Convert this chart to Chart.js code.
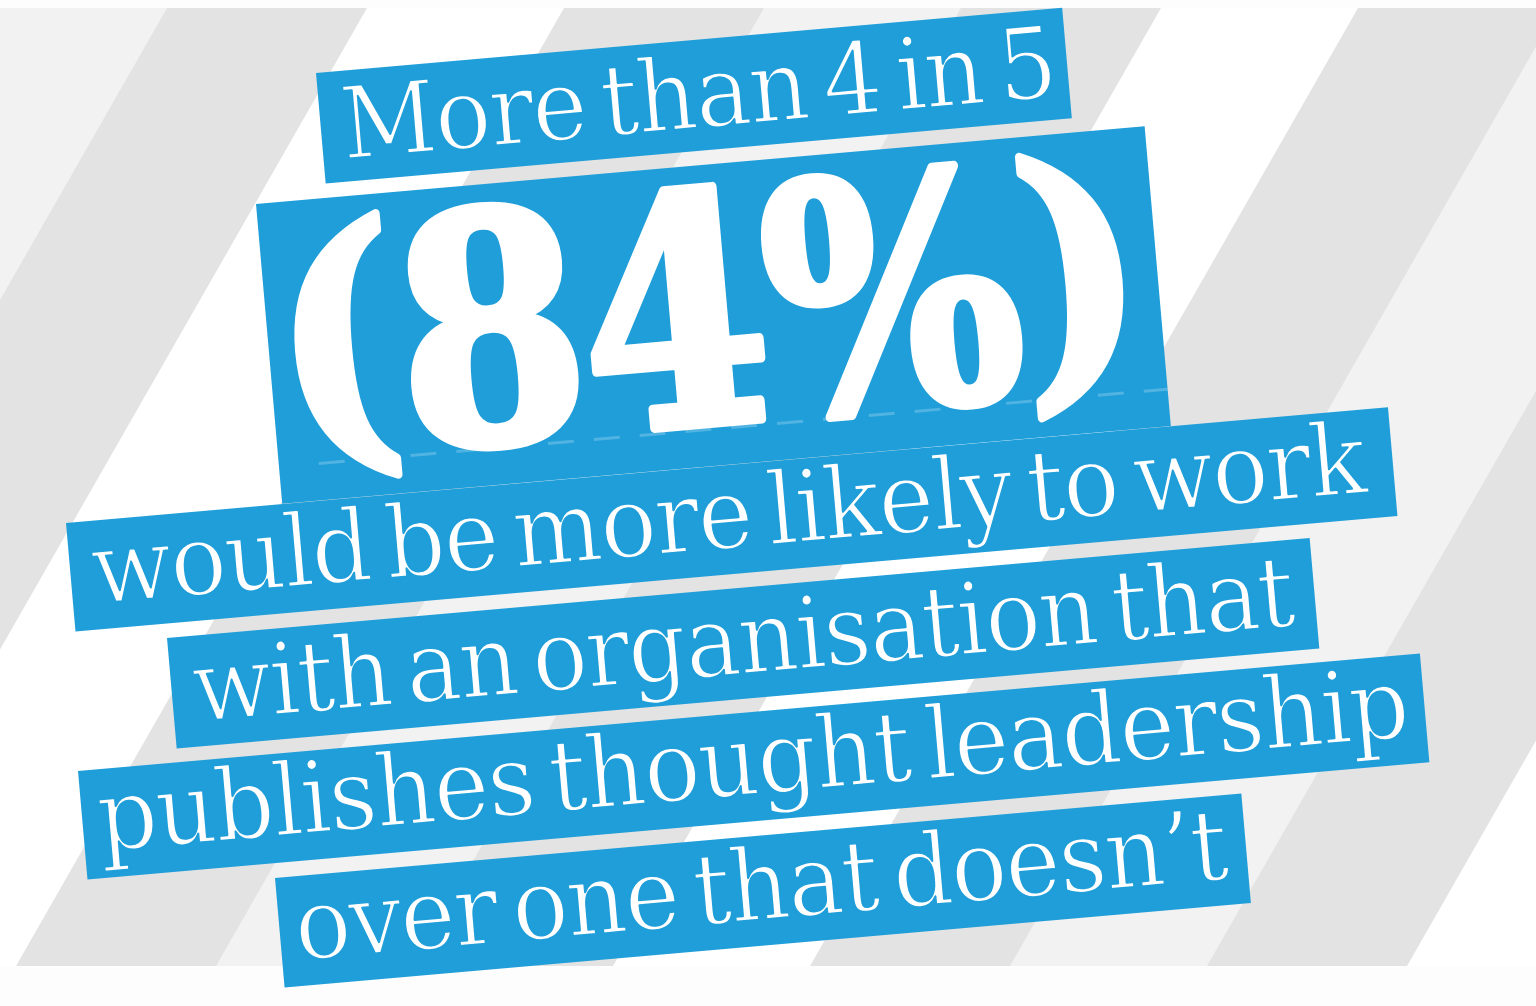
<!DOCTYPE html>
<html>
<head>
<meta charset="utf-8">
<title>More than 4 in 5</title>
<script src="https://cdn.jsdelivr.net/npm/chart.js@4.4.1/dist/chart.umd.min.js"></script>
<style>
  html, body { margin: 0; padding: 0; background: #fdfdfd; overflow: hidden; }
  #wrap { width: 1536px; height: 1006px; }
</style>
</head>
<body>
<div id="wrap"><canvas id="statChart" width="1536" height="1006"></canvas></div>
<script>
// data
const headline = ["More than 4 in 5"];
const shareValues = [84];
const bodyLines = [
    "would be more likely to work",
    "with an organisation that",
    "publishes thought leadership",
    "over one that doesn\u2019t"
];

// layout of the tilted label boxes (top-left corner, size, inner padding)
const TILT = 5 * Math.PI / 180;
const BLUE = "#1f9ed9";
const boxes = [
    { x: 316, y: 73,  w: 749,  h: 111, padL: 24, padR: 17, base: 88 },
    { x: 256, y: 204, w: 892,  h: 301, padL: 30, padR: 36, base: 258, digitH: 238, parenTop: 18, parenH: 264 },
    { x: 66,  y: 523, w: 1327, h: 109, padL: 22, padR: 25, base: 83 },
    { x: 167, y: 638, w: 1147, h: 111, padL: 22, padR: 20, base: 86 },
    { x: 78,  y: 771, w: 1347, h: 109, padL: 17, padR: 20, base: 82 },
    { x: 275, y: 878, w: 970,  h: 110, padL: 19, padR: 18, base: 84 }
];

function drawStripes(ctx) {
    const top = 8, bottom = 966, shift = (bottom - top) * 0.572;
    ctx.fillStyle = "#ffffff";
    ctx.fillRect(0, top, 1536, bottom - top);

    function band(start, width, color) {
        ctx.fillStyle = color;
        ctx.beginPath();
        ctx.moveTo(start, top);
        ctx.lineTo(start + width, top);
        ctx.lineTo(start + width - shift, bottom);
        ctx.lineTo(start - shift, bottom);
        ctx.closePath();
        ctx.fill();
    }
    for (let k = -1; k < 4; k++) band(-34 + 794 * k, 205, "#f2f2f2");
    for (let k = -1; k < 6; k++) band(167 + 397 * k, 200, "#e3e3e3");
}

function drawLightLine(ctx, b, text) {
    ctx.font = '100px "DejaVu Serif"';
    ctx.letterSpacing = "-2px";
    ctx.wordSpacing = "-13px";
    const m = ctx.measureText(text);
    const sx = (b.w - b.padL - b.padR) / (m.actualBoundingBoxLeft + m.actualBoundingBoxRight);
    ctx.translate(b.padL + m.actualBoundingBoxLeft * sx, b.base);
    ctx.scale(sx, 1);
    ctx.fillStyle = "#ffffff";
    ctx.fillText(text, 0, 0);
    // thin the strokes a little so the face reads lighter
    ctx.strokeStyle = BLUE;
    ctx.lineWidth = 2.2;
    ctx.lineJoin = "round";
    ctx.strokeText(text, 0, 0);
}

function drawFigure(ctx, b, value) {
    ctx.font = 'bold 300px "DejaVu Serif"';
    ctx.letterSpacing = "-4px";
    const pieces = ["(", value + "%", ")"];
    const full = ctx.measureText(pieces.join(""));
    const sx = (b.w - b.padL - b.padR) / (full.actualBoundingBoxLeft + full.actualBoundingBoxRight);
    const digits = ctx.measureText(String(value));
    const sy = b.digitH / digits.actualBoundingBoxAscent;
    const paren = ctx.measureText("(");
    const syP = b.parenH / (paren.actualBoundingBoxAscent + paren.actualBoundingBoxDescent);
    const baseP = b.parenTop + paren.actualBoundingBoxAscent * syP;

    // faint dashed guide under the figure
    ctx.save();
    ctx.strokeStyle = "rgba(255,255,255,0.22)";
    ctx.lineWidth = 3;
    ctx.setLineDash([26, 20]);
    ctx.beginPath();
    ctx.moveTo(40, b.base + 6);
    ctx.lineTo(b.w, b.base + 6);
    ctx.stroke();
    ctx.restore();

    let x = b.padL + full.actualBoundingBoxLeft * sx;
    ctx.fillStyle = "#ffffff";
    ctx.strokeStyle = "#ffffff";
    ctx.lineWidth = 9;
    ctx.lineJoin = "round";
    pieces.forEach(function (p, i) {
        const isParen = i !== 1;
        ctx.save();
        ctx.translate(x, isParen ? baseP : b.base);
        ctx.scale(sx, isParen ? syP : sy);
        ctx.fillText(p, 0, 0);
        ctx.strokeText(p, 0, 0);
        ctx.restore();
        x += ctx.measureText(p).width * sx;
    });
}

function drawLabel(ctx, b, draw) {
    ctx.save();
    ctx.translate(b.x, b.y);
    ctx.rotate(-TILT);
    ctx.fillStyle = BLUE;
    ctx.fillRect(0, 0, b.w, b.h);
    ctx.textAlign = "left";
    ctx.textBaseline = "alphabetic";
    draw();
    ctx.restore();
}

const infographic = {
    id: "infographic",
    beforeDraw(chart) {
        const ctx = chart.ctx;
        ctx.save();
        ctx.fillStyle = "#fdfdfd";
        ctx.fillRect(0, 0, chart.width, chart.height);
        drawStripes(ctx);
        ctx.restore();
    },
    afterDraw(chart) {
        const ctx = chart.ctx;
        const value = chart.data.datasets[0].data[0];
        drawLabel(ctx, boxes[0], () => drawLightLine(ctx, boxes[0], chart.data.labels[0]));
        drawLabel(ctx, boxes[1], () => drawFigure(ctx, boxes[1], value));
        bodyLines.forEach(function (line, i) {
            drawLabel(ctx, boxes[i + 2], () => drawLightLine(ctx, boxes[i + 2], line));
        });
    }
};

function build() {
    const ctx = document.getElementById("statChart").getContext("2d");
    new Chart(ctx, {
        type: "bar",
        data: {
            labels: headline,
            datasets: [{ data: shareValues, backgroundColor: "rgba(0,0,0,0)", borderWidth: 0 }]
        },
        options: {
            responsive: false,
            animation: false,
            events: [],
            layout: { padding: 0 },
            plugins: { legend: { display: false }, tooltip: { enabled: false } },
            scales: {
                x: { display: false },
                y: { display: false, min: 0, max: 100 }
            }
        },
        plugins: [infographic]
    });
}

Promise.all([
    document.fonts.load('100px "DejaVu Serif"'),
    document.fonts.load('bold 100px "DejaVu Serif"')
]).then(build, build);
</script>
</body>
</html>
